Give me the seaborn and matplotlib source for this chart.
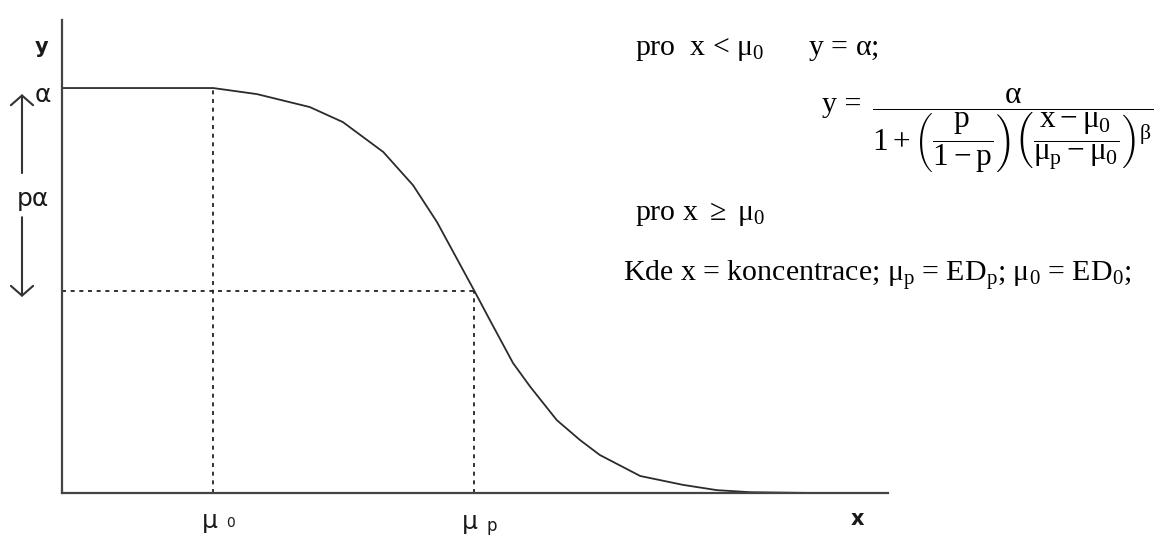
import matplotlib
matplotlib.use("Agg")
import matplotlib.pyplot as plt
import seaborn as sns
import pandas as pd

# Dose-response curve (alpha = 1, p = 0.5), concentration on a 0-100 scale
conc = [0.0, 18.3, 23.6, 30.0, 34.0, 38.9, 42.5, 45.4, 49.9, 51.8, 54.6,
        56.7, 59.9, 62.7, 65.1, 70.0, 75.2, 79.3, 83.3, 90.9]
response = [1.000, 1.000, 0.985, 0.953, 0.916, 0.842, 0.760, 0.669, 0.500,
            0.427, 0.321, 0.262, 0.180, 0.131, 0.094, 0.042, 0.020, 0.007,
            0.002, 0.000]

alpha = 1.0
p = 0.5
mu_0 = 18.3
mu_p = 49.9
y_p = alpha * (1 - p)

W, H = 1169, 536


def fx(px):
    return px / W


def fy(py):
    return 1 - py / H


sns.set_style("white")
plt.rcParams["mathtext.fontset"] = "custom"
plt.rcParams["mathtext.rm"] = "Liberation Serif"
plt.rcParams["mathtext.it"] = "Liberation Serif"
plt.rcParams["mathtext.bf"] = "Liberation Serif:bold"

fig = plt.figure(figsize=(W / 100, H / 100), dpi=100)
ax = fig.add_axes([fx(62), fy(493), fx(888) - fx(62), fy(20) - fy(493)])

df = pd.DataFrame({"conc": conc, "response": response})
sns.lineplot(data=df, x="conc", y="response", sort=False, estimator=None,
             color="#2b2b2b", linewidth=1.3, ax=ax)

dash = (0, (2.2, 2.6))
ax.plot([mu_0, mu_0], [0, alpha], color="#222222", lw=1.3, linestyle=dash)
ax.plot([mu_p, mu_p], [0, y_p], color="#222222", lw=1.3, linestyle=dash)
ax.plot([0, mu_p], [y_p, y_p], color="#222222", lw=1.3, linestyle=dash)

ax.set_xlim(0, 100)
ax.set_ylim(0, 1.168)
ax.set_xticks([])
ax.set_yticks([])
ax.set_xlabel("")
ax.set_ylabel("")
for side in ("top", "right"):
    ax.spines[side].set_visible(False)
for side in ("left", "bottom"):
    ax.spines[side].set_color("#444444")
    ax.spines[side].set_linewidth(1.6)

# p*alpha span arrows left of the y axis
trans = ax.get_yaxis_transform()
xa = -40 / 826
arrow_kw = dict(arrowstyle="->,head_length=0.7,head_width=0.8", lw=1.5,
                color="#333333", shrinkA=0, shrinkB=0, mutation_scale=10)
ax.annotate("", xy=(xa, 0.985), xytext=(xa, 0.79), xycoords=trans,
            textcoords=trans, arrowprops=arrow_kw, annotation_clip=False)
ax.annotate("", xy=(xa, 0.484), xytext=(xa, 0.681), xycoords=trans,
            textcoords=trans, arrowprops=arrow_kw, annotation_clip=False)

sans = "DejaVu Sans"
ink = "#1a1a1a"
fig.text(fx(42), fy(47), "y", fontsize=15, fontweight="bold", family=sans,
         ha="center", va="center", color=ink)
fig.text(fx(43), fy(95), "α", fontsize=18, family=sans,
         ha="center", va="center", color=ink)
fig.text(fx(33), fy(199), "pα", fontsize=18, family=sans,
         ha="center", va="center", color=ink)
fig.text(fx(857), fy(519), "x", fontsize=15, fontweight="bold", family=sans,
         ha="center", va="center", color=ink)

# axis position labels
fig.text(fx(202), fy(528), "μ", fontsize=18, family=sans,
         ha="left", va="baseline", color=ink)
fig.text(fx(226), fy(527), "0", fontsize=10, family=sans,
         ha="left", va="baseline", color=ink)
fig.text(fx(462), fy(529), "μ", fontsize=18, family=sans,
         ha="left", va="baseline", color=ink)
fig.text(fx(486), fy(531), "p", fontsize=12, family=sans,
         ha="left", va="baseline", color=ink)

serif = "Liberation Serif"
fs = 21.5
fig.text(fx(635), fy(55), r"pro  x < $\mu_0$      y = α;", fontsize=fs,
         family=serif, ha="left", va="baseline", color="black")
fig.text(fx(822), fy(112), "y =", fontsize=fs, family=serif,
         ha="left", va="baseline", color="black")
fig.text(fx(872), fy(131),
         r"$\dfrac{\alpha}{1+\left(\dfrac{\mathrm{p}}{1-\mathrm{p}}\right)"
         r"\left(\dfrac{\mathrm{x}-\mu_0}{\mu_\mathrm{p}-\mu_0}\right)^{\beta}}$",
         fontsize=22.5, family=serif, ha="left", va="center", color="black")
fig.text(fx(635), fy(220), r"pro x $\geq$ $\mu_0$", fontsize=fs,
         family=serif, ha="left", va="baseline", color="black")
fig.text(fx(623), fy(281),
         r"Kde x = koncentrace; $\mu_\mathrm{p}$ = ED$_\mathrm{p}$; "
         r"$\mu_0$ = ED$_0$;",
         fontsize=fs, family=serif, ha="left", va="baseline", color="black")

fig.savefig("out.png", dpi=100, facecolor="white")
